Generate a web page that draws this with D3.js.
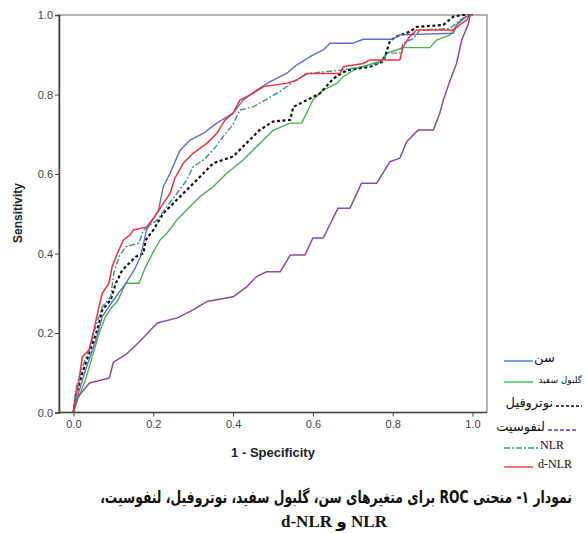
<!DOCTYPE html>
<html>
<head>
<meta charset="utf-8">
<script src="https://cdn.jsdelivr.net/npm/d3@7"></script>
<style>
  body { margin: 0; background: #fff; }
  svg { display: block; }
</style>
</head>
<body>
<svg id="chart" width="586" height="533"></svg>
<script>
// ROC points: [1 - specificity, sensitivity]
const age = [[0,0],[0.01,0.04],[0.03,0.107],[0.056,0.182],[0.072,0.241],[0.1,0.283],[0.131,0.325],[0.152,0.358],[0.168,0.392],[0.183,0.459],[0.213,0.509],[0.225,0.568],[0.242,0.602],[0.267,0.66],[0.292,0.685],[0.325,0.702],[0.359,0.728],[0.4,0.753],[0.425,0.786],[0.459,0.811],[0.492,0.832],[0.534,0.853],[0.559,0.874],[0.593,0.895],[0.626,0.912],[0.643,0.929],[0.701,0.929],[0.726,0.939],[0.8,0.939],[0.818,0.95],[0.952,0.954],[0.96,0.975],[0.976,0.992],[0.994,1],[1,1]];
const wbc = [[0,0],[0.01,0.031],[0.03,0.082],[0.047,0.14],[0.064,0.199],[0.08,0.241],[0.097,0.266],[0.11,0.279],[0.131,0.325],[0.164,0.325],[0.181,0.367],[0.2,0.404],[0.217,0.434],[0.234,0.451],[0.259,0.484],[0.292,0.518],[0.317,0.543],[0.35,0.568],[0.384,0.602],[0.425,0.635],[0.467,0.677],[0.5,0.71],[0.543,0.728],[0.572,0.728],[0.6,0.786],[0.626,0.811],[0.66,0.828],[0.676,0.845],[0.71,0.866],[0.768,0.883],[0.785,0.904],[0.81,0.912],[0.826,0.918],[0.893,0.918],[0.91,0.937],[0.944,0.95],[0.96,0.975],[0.985,0.996],[1,1]];
const neutrophil = [[0,0],[0.005,0.04],[0.022,0.099],[0.039,0.149],[0.06,0.208],[0.072,0.258],[0.093,0.283],[0.106,0.325],[0.122,0.358],[0.156,0.392],[0.175,0.4],[0.181,0.434],[0.2,0.459],[0.225,0.501],[0.259,0.535],[0.292,0.568],[0.317,0.593],[0.35,0.627],[0.4,0.644],[0.425,0.669],[0.467,0.711],[0.5,0.732],[0.543,0.736],[0.551,0.769],[0.593,0.79],[0.618,0.803],[0.651,0.84],[0.685,0.861],[0.743,0.87],[0.777,0.883],[0.793,0.935],[0.81,0.946],[0.843,0.958],[0.86,0.97],[0.927,0.975],[0.952,0.996],[0.976,1],[1,1]];
const lymphocyte = [[0,0],[0.005,0.03],[0.02,0.05],[0.04,0.074],[0.09,0.087],[0.1,0.127],[0.133,0.147],[0.167,0.18],[0.21,0.225],[0.26,0.238],[0.3,0.258],[0.334,0.279],[0.4,0.291],[0.434,0.316],[0.459,0.342],[0.484,0.354],[0.518,0.354],[0.543,0.396],[0.58,0.396],[0.6,0.439],[0.626,0.439],[0.663,0.514],[0.693,0.514],[0.722,0.577],[0.76,0.577],[0.793,0.631],[0.818,0.64],[0.835,0.681],[0.864,0.711],[0.902,0.711],[0.918,0.753],[0.927,0.786],[0.944,0.836],[0.96,0.878],[0.973,0.937],[0.99,0.979],[0.994,1],[1,1]];
const nlr = [[0,0],[0.005,0.057],[0.022,0.115],[0.039,0.157],[0.056,0.216],[0.072,0.266],[0.093,0.291],[0.101,0.35],[0.114,0.392],[0.131,0.417],[0.164,0.426],[0.175,0.459],[0.209,0.484],[0.234,0.518],[0.259,0.551],[0.284,0.585],[0.3,0.618],[0.325,0.635],[0.35,0.66],[0.375,0.694],[0.4,0.725],[0.417,0.761],[0.45,0.769],[0.484,0.788],[0.518,0.808],[0.551,0.832],[0.588,0.853],[0.668,0.861],[0.726,0.87],[0.751,0.874],[0.777,0.883],[0.785,0.904],[0.818,0.904],[0.826,0.929],[0.852,0.941],[0.868,0.962],[0.944,0.966],[0.968,0.987],[0.994,1],[1,1]];
const dnlr = [[0,0],[0.003,0.024],[0.014,0.082],[0.022,0.14],[0.039,0.157],[0.051,0.208],[0.064,0.266],[0.072,0.3],[0.089,0.325],[0.097,0.367],[0.108,0.396],[0.125,0.434],[0.142,0.447],[0.15,0.459],[0.183,0.467],[0.204,0.493],[0.225,0.526],[0.242,0.551],[0.254,0.589],[0.275,0.627],[0.3,0.652],[0.334,0.677],[0.359,0.702],[0.38,0.736],[0.4,0.753],[0.417,0.786],[0.45,0.803],[0.476,0.82],[0.534,0.828],[0.559,0.836],[0.585,0.853],[0.668,0.853],[0.676,0.87],[0.726,0.878],[0.743,0.887],[0.818,0.887],[0.826,0.92],[0.843,0.946],[0.86,0.962],[0.952,0.962],[0.968,0.975],[0.985,0.987],[0.994,1],[1,1]];

const ticks = [0, 0.2, 0.4, 0.6, 0.8, 1.0];
const legendLabels = ["سن", "گلبول سفید", "نوتروفیل", "لنفوسیت", "NLR", "d-NLR"];
const captionLines = ["نمودار ۱- منحنی ROC برای متغیرهای سن، گلبول سفید، نوتروفیل، لنفوسیت،", "NLR و d-NLR"];

const svg = d3.select("#chart");
const frame = { left: 59, right: 487, top: 15, bottom: 412.5 };

const x = d3.scaleLinear().domain([0, 1]).range([73.5, 472.5]);
const y = d3.scaleLinear().domain([0, 1]).range([412.5, 15]);

// box
svg.append("rect")
  .attr("x", frame.left).attr("y", frame.top)
  .attr("width", frame.right - frame.left).attr("height", frame.bottom - frame.top)
  .attr("fill", "none").attr("stroke", "#8a8a8a").attr("stroke-width", 1.3);

const xAxis = svg.append("g")
  .attr("transform", `translate(0,${frame.bottom})`)
  .call(d3.axisBottom(x).tickValues(ticks).tickFormat(d3.format(".1f")).tickSize(4).tickPadding(4));
const yAxis = svg.append("g")
  .attr("transform", `translate(${frame.left},0)`)
  .call(d3.axisLeft(y).tickValues(ticks).tickFormat(d3.format(".1f")).tickSize(4).tickPadding(2));

xAxis.select(".domain").attr("d", `M${frame.left},0H${frame.right}`);
[xAxis, yAxis].forEach(g => {
  g.select(".domain").attr("stroke", "#444").attr("stroke-width", 1.6);
  g.selectAll(".tick line").attr("stroke", "#444");
  g.selectAll(".tick text")
    .attr("fill", "#444").attr("font-family", "Liberation Sans, Arial, sans-serif").attr("font-size", 11);
});

svg.append("text")
  .attr("x", 273).attr("y", 457)
  .attr("text-anchor", "middle")
  .attr("font-family", "Liberation Sans, Arial, sans-serif").attr("font-weight", "bold").attr("font-size", 13)
  .attr("fill", "#222")
  .text("1 - Specificity");

svg.append("text")
  .attr("transform", "translate(22,213) rotate(-90)")
  .attr("text-anchor", "middle")
  .attr("font-family", "Liberation Sans, Arial, sans-serif").attr("font-weight", "bold").attr("font-size", 12)
  .attr("fill", "#222")
  .text("Sensitivity");

const series = [
  { data: wbc, color: "#4daf50", width: 1.4, dash: null },
  { data: lymphocyte, color: "#8a4c9c", width: 1.5, dash: null },
  { data: neutrophil, color: "#111", width: 2.2, dash: "3,2.5" },
  { data: nlr, color: "#3f8ea0", width: 1.4, dash: "6,2,2,2" },
  { data: age, color: "#5b6fc4", width: 1.4, dash: null },
  { data: dnlr, color: "#e8363b", width: 1.5, dash: null }
];

const line = d3.line().x(d => x(d[0])).y(d => y(d[1]));

svg.append("g").selectAll("path")
  .data(series)
  .join("path")
  .attr("d", d => line(d.data))
  .attr("fill", "none")
  .attr("stroke", d => d.color)
  .attr("stroke-width", d => d.width)
  .attr("stroke-dasharray", d => d.dash)
  .attr("stroke-linejoin", "round");

// legend
const legendItems = [
  { label: legendLabels[0], color: "#2f74c8", dash: null, y: 361, line: [504, 533], tx: 534, anchor: "start", size: 13, font: "DejaVu Sans" },
  { label: legendLabels[1], color: "#22b14c", dash: null, y: 382, line: [504, 533], tx: 582, anchor: "end", size: 9, font: "DejaVu Sans" },
  { label: legendLabels[2], color: "#111", dash: "3,2", y: 406, line: [556, 582], tx: 553, anchor: "end", size: 13, font: "DejaVu Sans" },
  { label: legendLabels[3], color: "#7b2fbf", dash: "4,2", y: 430, line: [548, 578], tx: 545, anchor: "end", size: 13, font: "DejaVu Sans" },
  { label: legendLabels[4], color: "#3b8fa0", dash: "6,2,2,2", y: 448, line: [504, 540], tx: 540, anchor: "start", size: 12, font: "Liberation Serif" },
  { label: legendLabels[5], color: "#e8262a", dash: null, y: 467, line: [504, 533], tx: 538, anchor: "start", size: 12, font: "Liberation Serif" }
];

const lg = svg.append("g");
legendItems.forEach(d => {
  lg.append("line")
    .attr("x1", d.line[0]).attr("x2", d.line[1])
    .attr("y1", d.y).attr("y2", d.y)
    .attr("stroke", d.color).attr("stroke-width", 1.3)
    .attr("stroke-dasharray", d.dash);
  lg.append("text")
    .attr("x", d.tx).attr("y", d.y + 1)
    .attr("text-anchor", d.anchor)
    .attr("font-family", d.font).attr("font-size", d.size)
    .attr("fill", "#111")
    .text(d.label);
});

// caption: first line squeezed horizontally to the original width
const cap = svg.append("g");
const cap1 = cap.append("text")
  .attr("x", 0).attr("y", 0)
  .attr("text-anchor", "middle").attr("direction", "rtl")
  .attr("font-family", "DejaVu Sans").attr("font-weight", "bold").attr("font-size", 17)
  .attr("fill", "#111")
  .text(captionLines[0]);
const w = cap1.node().getComputedTextLength();
const sx = w > 0 ? 472 / w : 1;
cap1.attr("transform", `translate(336,503) scale(${sx},1)`);

cap.append("text")
  .attr("x", 334).attr("y", 527)
  .attr("text-anchor", "middle").attr("direction", "rtl")
  .attr("font-family", "Liberation Serif, DejaVu Sans").attr("font-weight", "bold").attr("font-size", 17)
  .attr("fill", "#111")
  .text(captionLines[1]);
</script>
</body>
</html>
